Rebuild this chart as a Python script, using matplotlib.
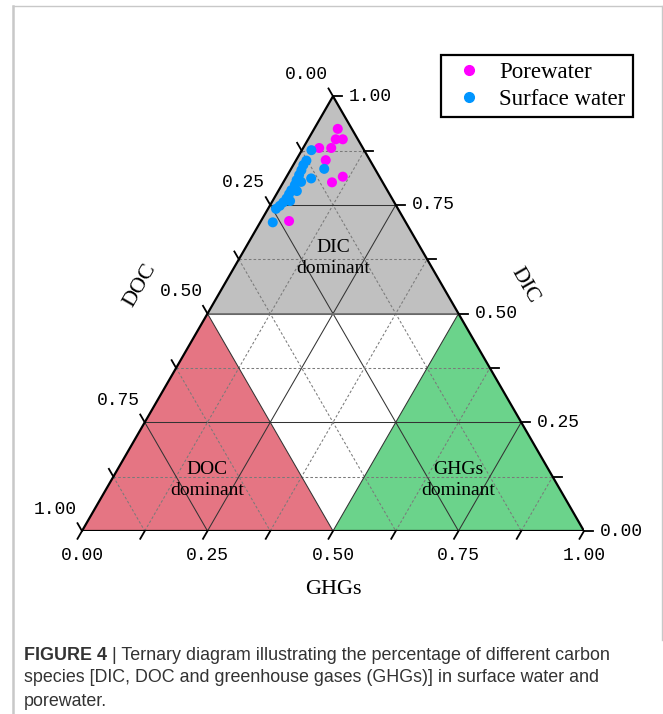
import numpy as np
import matplotlib

matplotlib.use("Agg")
import matplotlib.pyplot as plt
from matplotlib.lines import Line2D
from matplotlib.patches import Polygon

# ternary fractions (DIC, DOC, GHGs) for each sample
pore_dic = [0.925, 0.901, 0.901, 0.881, 0.881, 0.853, 0.815, 0.802, 0.713]
pore_doc = [0.028, 0.044, 0.030, 0.087, 0.063, 0.088, 0.073, 0.101, 0.231]
pore_ghg = [0.047, 0.055, 0.069, 0.032, 0.056, 0.059, 0.112, 0.097, 0.056]

surf_dic = [0.876, 0.852, 0.833, 0.811, 0.842, 0.830, 0.819, 0.807, 0.796,
            0.784, 0.775, 0.765, 0.756, 0.748, 0.741, 0.710, 0.803, 0.782, 0.759]
surf_doc = [0.105, 0.127, 0.101, 0.138, 0.138, 0.148, 0.158, 0.169, 0.178,
            0.191, 0.200, 0.210, 0.221, 0.232, 0.243, 0.265, 0.162, 0.181, 0.206]
surf_ghg = [0.019, 0.021, 0.066, 0.051, 0.020, 0.022, 0.023, 0.024, 0.026,
            0.025, 0.025, 0.025, 0.023, 0.020, 0.016, 0.025, 0.035, 0.037, 0.035]

tick_values = np.arange(0, 9) / 8
tick_labels = {0.0: "0.00", 0.25: "0.25", 0.5: "0.50", 0.75: "0.75", 1.0: "1.00"}

H = np.sqrt(3) / 2
W_PX, H_PX = 663, 714
SIDE_PX = 502.0
PX = 1 / SIDE_PX  # one pixel in data units

SERIF = "Liberation Serif"
TICK_FONT = "Liberation Mono"


def to_xy(ghg, dic):
    ghg = np.asarray(ghg, dtype=float)
    dic = np.asarray(dic, dtype=float)
    return ghg + 0.5 * dic, H * dic


fig = plt.figure(figsize=(W_PX / 100, H_PX / 100), dpi=100)
ax = fig.add_axes([82 / W_PX, (H_PX - 531) / H_PX, SIDE_PX / W_PX, SIDE_PX * H / H_PX])
ax.set_xlim(0, 1)
ax.set_ylim(0, H)
ax.axis("off")

# dominance regions
regions = [
    ((0, 1), (0, 0.5), (0.5, 0.5), "#c0c0c0"),   # DIC > 0.5
    ((0, 0), (0.5, 0), (0, 0.5), "#e57583"),     # DOC > 0.5
    ((1, 0), (0.5, 0), (0.5, 0.5), "#6bd38b"),   # GHGs > 0.5
]
for a, b, c, col in regions:
    pts = [to_xy(*a), to_xy(*b), to_xy(*c)]
    ax.add_patch(Polygon(pts, closed=True, facecolor=col, edgecolor="none", zorder=1))

# grid: solid on quarters, dashed on eighths
for v in tick_values[1:-1]:
    solid = abs(v * 4 - round(v * 4)) < 1e-9
    kw = dict(color="#333333" if solid else "#7a7a7a", lw=0.75,
              ls="-" if solid else (0, (2.5, 2)), zorder=2)
    # constant DIC
    x, y = to_xy([0, 1 - v], [v, v])
    ax.plot(x, y, **kw)
    # constant GHGs
    x, y = to_xy([v, v], [0, 1 - v])
    ax.plot(x, y, **kw)
    # constant DOC
    x, y = to_xy([0, 1 - v], [1 - v, 0])
    ax.plot(x, y, **kw)

# mid boundary of the DIC region
x, y = to_xy([0, 0.5], [0.5, 0.5])
ax.plot(x, y, color="#6e6e6e", lw=1.3, zorder=2)

# outline
x, y = to_xy([0, 1, 0, 0], [0, 0, 1, 0])
ax.plot(x, y, color="black", lw=1.6, zorder=4, solid_joinstyle="miter")

tick_len = 9 * PX
for v in tick_values:
    # GHGs along the bottom
    bx, by = to_xy(v, 0)
    ax.plot([bx, bx - 0.5 * tick_len], [by, by - H * tick_len], color="black", lw=1.3,
            clip_on=False, zorder=4)
    # DIC along the right side
    rx, ry = to_xy(1 - v, v)
    ax.plot([rx, rx + tick_len], [ry, ry], color="black", lw=1.3, clip_on=False, zorder=4)
    # DOC along the left side
    lx, ly = to_xy(0, 1 - v)
    ax.plot([lx, lx - 0.5 * tick_len], [ly, ly + H * tick_len], color="black", lw=1.3,
            clip_on=False, zorder=4)
    if v in tick_labels:
        lab = tick_labels[v]
        ax.text(bx, by - 24 * PX, lab, ha="center", va="center", fontsize=13,
                family=TICK_FONT)
        ax.text(rx + 16 * PX, ry, lab, ha="left", va="center", fontsize=13,
                family=TICK_FONT)
        ax.text(lx - 5 * PX, ly + 22 * PX, lab, ha="right", va="center", fontsize=13,
                family=TICK_FONT)

# axis titles
ax.text(0.5, -59 * PX, "GHGs", ha="center", va="center", fontsize=16, family=SERIF)
ax.text(0.1155, 0.49, "DOC", ha="center", va="center", rotation=60, fontsize=16,
        family=SERIF)
ax.text(0.8825, 0.49, "DIC", ha="center", va="center", rotation=-60, fontsize=16,
        family=SERIF)

# region labels
ax.text(0.5, 0.544, "DIC\ndominant", ha="center", va="center", fontsize=14,
        family=SERIF, linespacing=1.35, zorder=5)
ax.text(0.249, 0.1016, "DOC\ndominant", ha="center", va="center", fontsize=14,
        family=SERIF, linespacing=1.35, zorder=5)
ax.text(0.749, 0.1016, "GHGs\ndominant", ha="center", va="center", fontsize=14,
        family=SERIF, linespacing=1.35, zorder=5)

# samples
px_, py_ = to_xy(pore_ghg, pore_dic)
sx_, sy_ = to_xy(surf_ghg, surf_dic)
ax.scatter(px_, py_, s=52, color="#ff00ff", edgecolors="none", zorder=6, clip_on=False)
ax.scatter(sx_, sy_, s=52, color="#0095ff", edgecolors="none", zorder=7, clip_on=False)

handles = [
    Line2D([], [], ls="none", marker="o", ms=7, color="#ff00ff", label="Porewater"),
    Line2D([], [], ls="none", marker="o", ms=7, color="#0095ff", label="Surface water"),
]
leg = fig.legend(handles=handles, loc="upper left",
                 bbox_to_anchor=(441 / W_PX, 1 - 55 / H_PX), bbox_transform=fig.transFigure,
                 prop={"family": SERIF, "size": 16.5}, frameon=True, fancybox=False,
                 edgecolor="black", framealpha=1, borderpad=0.3, labelspacing=0.25,
                 handletextpad=0.45, handlelength=1.8, borderaxespad=0)
leg.get_frame().set_linewidth(1.6)

# outer frame
frame_kw = dict(color="#c8c8c8", transform=fig.transFigure)
fig.add_artist(Line2D([13 / W_PX, 13 / W_PX], [0, 1 - 6 / H_PX], lw=1.8, **frame_kw))
fig.add_artist(Line2D([13 / W_PX, 662 / W_PX], [1 - 6 / H_PX, 1 - 6 / H_PX], lw=1.0,
                      **frame_kw))
fig.add_artist(Line2D([662 / W_PX, 662 / W_PX], [1 - 6 / H_PX, 1 - 640 / H_PX], lw=1.0,
                      **frame_kw))

# caption
cap_kw = dict(fontsize=12.9, family="Liberation Sans", color="#333333", va="center")
renderer = fig.canvas.get_renderer()
head = fig.text(24 / W_PX, 1 - 655 / H_PX, "FIGURE 4", fontweight="bold", **cap_kw)
bb = head.get_window_extent(renderer)
fig.text(bb.x1 / W_PX, 1 - 655 / H_PX,
         " | Ternary diagram illustrating the percentage of different carbon", **cap_kw)
fig.text(24 / W_PX, 1 - 678 / H_PX,
         "species [DIC, DOC and greenhouse gases (GHGs)] in surface water and", **cap_kw)
fig.text(24 / W_PX, 1 - 701 / H_PX, "porewater.", **cap_kw)

fig.savefig("out.png", dpi=100)
